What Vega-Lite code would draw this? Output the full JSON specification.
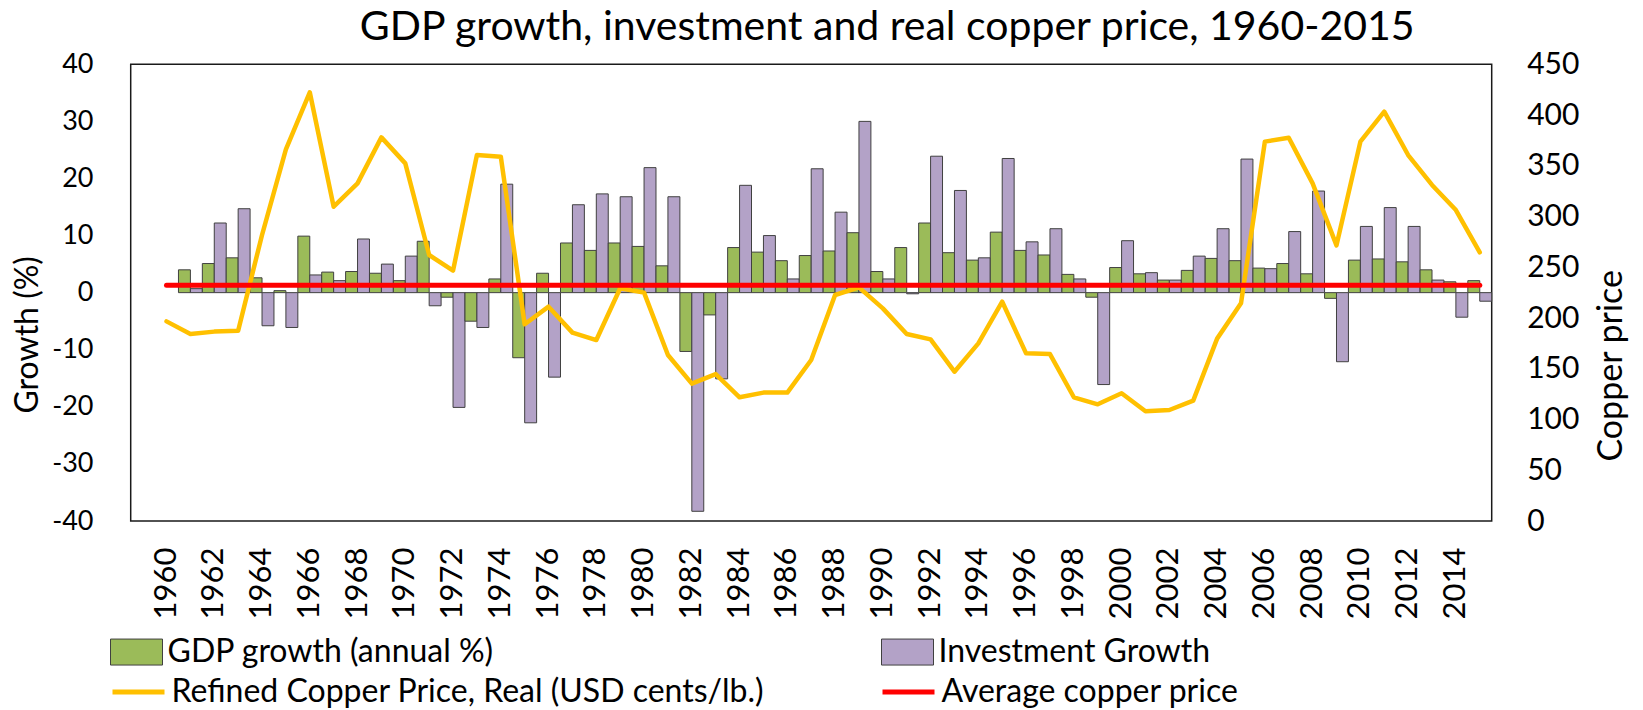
{
  "$schema": "https://vega.github.io/schema/vega-lite/v6.json",
  "width": 1361,
  "height": 456.7,
  "autosize": {"type": "none"},
  "padding": {"left": 130.7, "top": 64.3, "right": 151.3, "bottom": 189},
  "config": {
    "font": "Lato",
    "view": {"stroke": "#1a1a1a", "strokeWidth": 1.5},
    "axis": {"grid": false, "ticks": false, "domain": false, "labelColor": "black", "titleColor": "black", "titleFontWeight": "normal"},
    "axisLeft": {"titleFontSize": 32},
    "axisRight": {"titleFontSize": 34},
    "legend": {"labelColor": "black", "padding": 0}
  },
  "title": {"text": "GDP growth, investment and real copper price, 1960-2015", "fontSize": 41, "fontWeight": "normal", "color": "black", "anchor": "middle", "dx": 76, "offset": 0},
  "data": {"values": [
    {"year": 1960, "GDP growth (annual %)": null, "Investment Growth": null, "copper": 196.7, "avg": 232.3},
    {"year": 1961, "GDP growth (annual %)": 4.0, "Investment Growth": 0.7, "copper": 184.3, "avg": 232.3},
    {"year": 1962, "GDP growth (annual %)": 5.1, "Investment Growth": 12.2, "copper": 186.6, "avg": 232.3},
    {"year": 1963, "GDP growth (annual %)": 6.1, "Investment Growth": 14.7, "copper": 187.5, "avg": 232.3},
    {"year": 1964, "GDP growth (annual %)": 2.6, "Investment Growth": -5.8, "copper": 281.8, "avg": 232.3},
    {"year": 1965, "GDP growth (annual %)": 0.35, "Investment Growth": -6.1, "copper": 366.2, "avg": 232.3},
    {"year": 1966, "GDP growth (annual %)": 9.9, "Investment Growth": 3.1, "copper": 422.4, "avg": 232.3},
    {"year": 1967, "GDP growth (annual %)": 3.6, "Investment Growth": 2.1, "copper": 309.7, "avg": 232.3},
    {"year": 1968, "GDP growth (annual %)": 3.7, "Investment Growth": 9.4, "copper": 332.7, "avg": 232.3},
    {"year": 1969, "GDP growth (annual %)": 3.4, "Investment Growth": 5.0, "copper": 378.0, "avg": 232.3},
    {"year": 1970, "GDP growth (annual %)": 2.1, "Investment Growth": 6.4, "copper": 352.4, "avg": 232.3},
    {"year": 1971, "GDP growth (annual %)": 9.0, "Investment Growth": -2.3, "copper": 262.1, "avg": 232.3},
    {"year": 1972, "GDP growth (annual %)": -0.8, "Investment Growth": -20.1, "copper": 246.7, "avg": 232.3},
    {"year": 1973, "GDP growth (annual %)": -5.0, "Investment Growth": -6.1, "copper": 360.6, "avg": 232.3},
    {"year": 1974, "GDP growth (annual %)": 2.4, "Investment Growth": 19.0, "copper": 359.0, "avg": 232.3},
    {"year": 1975, "GDP growth (annual %)": -11.4, "Investment Growth": -22.8, "copper": 193.8, "avg": 232.3},
    {"year": 1976, "GDP growth (annual %)": 3.4, "Investment Growth": -14.8, "copper": 211.2, "avg": 232.3},
    {"year": 1977, "GDP growth (annual %)": 8.7, "Investment Growth": 15.4, "copper": 185.6, "avg": 232.3},
    {"year": 1978, "GDP growth (annual %)": 7.4, "Investment Growth": 17.3, "copper": 178.3, "avg": 232.3},
    {"year": 1979, "GDP growth (annual %)": 8.7, "Investment Growth": 16.8, "copper": 229.3, "avg": 232.3},
    {"year": 1980, "GDP growth (annual %)": 8.1, "Investment Growth": 21.9, "copper": 225.0, "avg": 232.3},
    {"year": 1981, "GDP growth (annual %)": 4.7, "Investment Growth": 16.8, "copper": 163.6, "avg": 232.3},
    {"year": 1982, "GDP growth (annual %)": -10.3, "Investment Growth": -38.3, "copper": 135.3, "avg": 232.3},
    {"year": 1983, "GDP growth (annual %)": -3.9, "Investment Growth": -15.1, "copper": 144.8, "avg": 232.3},
    {"year": 1984, "GDP growth (annual %)": 7.9, "Investment Growth": 18.8, "copper": 121.9, "avg": 232.3},
    {"year": 1985, "GDP growth (annual %)": 7.1, "Investment Growth": 10.0, "copper": 126.5, "avg": 232.3},
    {"year": 1986, "GDP growth (annual %)": 5.6, "Investment Growth": 2.4, "copper": 126.5, "avg": 232.3},
    {"year": 1987, "GDP growth (annual %)": 6.5, "Investment Growth": 21.7, "copper": 158.6, "avg": 232.3},
    {"year": 1988, "GDP growth (annual %)": 7.3, "Investment Growth": 14.1, "copper": 222.7, "avg": 232.3},
    {"year": 1989, "GDP growth (annual %)": 10.5, "Investment Growth": 30.0, "copper": 230.2, "avg": 232.3},
    {"year": 1990, "GDP growth (annual %)": 3.7, "Investment Growth": 2.4, "copper": 209.5, "avg": 232.3},
    {"year": 1991, "GDP growth (annual %)": 7.9, "Investment Growth": -0.2, "copper": 184.3, "avg": 232.3},
    {"year": 1992, "GDP growth (annual %)": 12.2, "Investment Growth": 23.9, "copper": 179.0, "avg": 232.3},
    {"year": 1993, "GDP growth (annual %)": 7.0, "Investment Growth": 17.9, "copper": 147.1, "avg": 232.3},
    {"year": 1994, "GDP growth (annual %)": 5.7, "Investment Growth": 6.1, "copper": 175.0, "avg": 232.3},
    {"year": 1995, "GDP growth (annual %)": 10.6, "Investment Growth": 23.5, "copper": 216.1, "avg": 232.3},
    {"year": 1996, "GDP growth (annual %)": 7.4, "Investment Growth": 8.9, "copper": 165.2, "avg": 232.3},
    {"year": 1997, "GDP growth (annual %)": 6.6, "Investment Growth": 11.2, "copper": 164.5, "avg": 232.3},
    {"year": 1998, "GDP growth (annual %)": 3.2, "Investment Growth": 2.4, "copper": 121.9, "avg": 232.3},
    {"year": 1999, "GDP growth (annual %)": -0.8, "Investment Growth": -16.1, "copper": 115.0, "avg": 232.3},
    {"year": 2000, "GDP growth (annual %)": 4.4, "Investment Growth": 9.1, "copper": 125.8, "avg": 232.3},
    {"year": 2001, "GDP growth (annual %)": 3.3, "Investment Growth": 3.5, "copper": 108.1, "avg": 232.3},
    {"year": 2002, "GDP growth (annual %)": 2.2, "Investment Growth": 2.2, "copper": 109.4, "avg": 232.3},
    {"year": 2003, "GDP growth (annual %)": 3.9, "Investment Growth": 6.4, "copper": 118.6, "avg": 232.3},
    {"year": 2004, "GDP growth (annual %)": 6.0, "Investment Growth": 11.2, "copper": 179.7, "avg": 232.3},
    {"year": 2005, "GDP growth (annual %)": 5.6, "Investment Growth": 23.4, "copper": 214.5, "avg": 232.3},
    {"year": 2006, "GDP growth (annual %)": 4.3, "Investment Growth": 4.2, "copper": 373.8, "avg": 232.3},
    {"year": 2007, "GDP growth (annual %)": 5.1, "Investment Growth": 10.7, "copper": 377.7, "avg": 232.3},
    {"year": 2008, "GDP growth (annual %)": 3.3, "Investment Growth": 17.8, "copper": 332.7, "avg": 232.3},
    {"year": 2009, "GDP growth (annual %)": -1.0, "Investment Growth": -12.1, "copper": 271.6, "avg": 232.3},
    {"year": 2010, "GDP growth (annual %)": 5.7, "Investment Growth": 11.6, "copper": 373.8, "avg": 232.3},
    {"year": 2011, "GDP growth (annual %)": 5.9, "Investment Growth": 14.9, "copper": 403.3, "avg": 232.3},
    {"year": 2012, "GDP growth (annual %)": 5.4, "Investment Growth": 11.6, "copper": 360.6, "avg": 232.3},
    {"year": 2013, "GDP growth (annual %)": 4.0, "Investment Growth": 2.2, "copper": 331.1, "avg": 232.3},
    {"year": 2014, "GDP growth (annual %)": 1.9, "Investment Growth": -4.3, "copper": 306.4, "avg": 232.3},
    {"year": 2015, "GDP growth (annual %)": 2.1, "Investment Growth": -1.5, "copper": 264.7, "avg": 232.3}
  ]},
  "encoding": {
    "x": {
      "field": "year", "type": "ordinal",
      "scale": {"paddingInner": 0, "paddingOuter": 0},
      "axis": {
        "title": null, "labelAngle": -90, "labelAlign": "right", "labelBaseline": "middle",
        "labelFontSize": 31, "labelPadding": 26, "labelOverlap": false,
        "values": [1960,1962,1964,1966,1968,1970,1972,1974,1976,1978,1980,1982,1984,1986,1988,1990,1992,1994,1996,1998,2000,2002,2004,2006,2008,2010,2012,2014]
      }
    }
  },
  "layer": [
    {
      "layer": [
        {
          "transform": [{"fold": ["GDP growth (annual %)", "Investment Growth"], "as": ["series", "value"]}],
          "mark": {"type": "bar", "stroke": "#404040", "strokeWidth": 1},
          "encoding": {
            "xOffset": {"field": "series", "type": "nominal", "scale": {"domain": ["GDP growth (annual %)", "Investment Growth"], "paddingInner": 0, "paddingOuter": 0}},
            "y": {
              "field": "value", "type": "quantitative",
              "scale": {"domain": [-40, 40], "nice": false, "zero": false},
              "axis": {
                "title": "Growth (%)", "values": [-40,-30,-20,-10,0,10,20,30,40],
                "labelExpr": "'' + datum.value",
                "labelFontSize": 27, "labelPadding": 37.7,
                "titleFontSize": 32, "titleAngle": -90, "titleAlign": "center", "titleBaseline": "middle",
                "titleX": -103, "titleY": 270
              }
            },
            "fill": {
              "field": "series", "type": "nominal",
              "scale": {"domain": ["GDP growth (annual %)", "Investment Growth"], "range": ["#9BBB59", "#B3A2C7"]},
              "legend": {
                "title": null, "orient": "none", "legendX": -20.7, "legendY": 561,
                "direction": "horizontal", "columns": 2, "columnPadding": 384,
                "symbolType": "M-1,-0.5H1V0.5H-1Z", "symbolSize": 2704,
                "symbolStrokeColor": "#404040", "symbolStrokeWidth": 1, "symbolOpacity": 1,
                "labelFontSize": 32, "labelLimit": 1000, "labelOffset": 4.5
              }
            }
          }
        },
        {
          "data": {"values": [{}]},
          "mark": {"type": "rule", "color": "black", "strokeWidth": 1.5},
          "encoding": {
            "y": {
              "datum": 0, "type": "quantitative",
              "scale": {"domain": [-40, 40], "nice": false, "zero": false},
              "axis": {
                "title": "Growth (%)", "values": [-40,-30,-20,-10,0,10,20,30,40],
                "labelExpr": "'' + datum.value",
                "labelFontSize": 27, "labelPadding": 37.7,
                "titleFontSize": 32, "titleAngle": -90, "titleAlign": "center", "titleBaseline": "middle",
                "titleX": -103, "titleY": 270
              }
            }
          }
        }
      ]
    },
    {
      "layer": [
        {
          "mark": {"type": "line", "strokeWidth": 4.5, "strokeJoin": "round", "strokeCap": "round"},
          "encoding": {
            "x": {"field": "year", "type": "ordinal"},
            "y": {
              "field": "copper", "type": "quantitative",
              "scale": {"domain": [0, 450], "nice": false},
              "axis": {
                "orient": "right", "title": "Copper price", "values": [0,50,100,150,200,250,300,350,400,450],
                "labelFontSize": 30, "labelPadding": 35,
                "titleFontSize": 34, "titleAngle": -90, "titleAlign": "center", "titleBaseline": "middle",
                "titleX": 120, "titleY": 301
              }
            },
            "stroke": {
              "datum": "Refined Copper Price, Real (USD cents/lb.)",
              "scale": {"domain": ["Refined Copper Price, Real (USD cents/lb.)", "Average copper price"], "range": ["#FFC000", "#FF0000"]},
              "legend": {
                "title": null, "orient": "none", "legendX": -20.7, "legendY": 599,
                "direction": "horizontal", "columns": 2, "columnPadding": 107,
                "symbolType": "stroke", "symbolSize": 2704, "symbolStrokeWidth": 5,
                "labelFontSize": 32, "labelLimit": 1000, "labelOffset": 4.5
              }
            }
          }
        },
        {
          "mark": {"type": "line", "strokeWidth": 5, "strokeCap": "round"},
          "encoding": {
            "x": {"field": "year", "type": "ordinal"},
            "y": {
              "field": "avg", "type": "quantitative",
              "scale": {"domain": [0, 450], "nice": false},
              "axis": {
                "orient": "right", "title": "Copper price", "values": [0,50,100,150,200,250,300,350,400,450],
                "labelFontSize": 30, "labelPadding": 35,
                "titleFontSize": 34, "titleAngle": -90, "titleAlign": "center", "titleBaseline": "middle",
                "titleX": 120, "titleY": 301
              }
            },
            "stroke": {"datum": "Average copper price"}
          }
        }
      ]
    }
  ],
  "resolve": {"scale": {"y": "independent"}, "axis": {"y": "independent"}}
}
